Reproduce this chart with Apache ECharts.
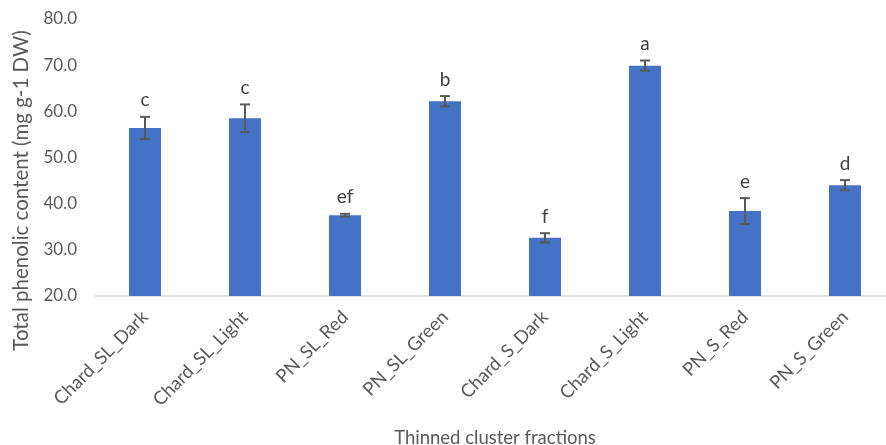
<!DOCTYPE html>
<html><head><meta charset="utf-8">
<script src="https://cdn.jsdelivr.net/npm/echarts@6/dist/echarts.min.js"></script>
<style>html,body{margin:0;padding:0;background:#fff}#c{width:886px;height:445px}</style>
</head><body><div id="c"></div>
<script>
const categories = ["Chard_SL_Dark","Chard_SL_Light","PN_SL_Red","PN_SL_Green","Chard_S_Dark","Chard_S_Light","PN_S_Red","PN_S_Green"];
const values = [56.4, 58.5, 37.5, 62.2, 32.6, 69.9, 38.4, 44.0];
const errors = [2.4, 3.0, 0.3, 1.1, 1.0, 1.1, 2.8, 1.1];
const letters = ["c","c","ef","b","f","a","e","d"];
const yTicks = {min: 20, max: 80, interval: 10};

const FONT = "Lato, 'Open Sans', sans-serif";
const chart = echarts.init(document.getElementById('c'));
chart.setOption({
  animation: false,
  textStyle: {fontFamily: FONT},
  grid: {left: 95, top: 19, width: 800, bottom: 149, containLabel: false, outerBoundsMode: 'none'},
  xAxis: {
    type: 'category', data: categories,
    axisLine: {lineStyle: {color: '#d9d9d9', width: 1.5}},
    axisTick: {show: false},
    axisLabel: {rotate: 45, color: '#595959', fontSize: 18.5, margin: 18, fontFamily: FONT},
    name: 'Thinned cluster fractions', nameLocation: 'middle', nameGap: 133,
    nameTextStyle: {color: '#595959', fontSize: 18.5, fontFamily: FONT}
  },
  yAxis: {
    type: 'value', min: yTicks.min, max: yTicks.max, interval: yTicks.interval,
    axisLine: {show: false}, axisTick: {show: false}, splitLine: {show: false},
    axisLabel: {color: '#595959', fontSize: 17, margin: 18, formatter: v => v.toFixed(1), fontFamily: FONT},
    name: 'Total phenolic content (mg g-1 DW)', nameLocation: 'middle', nameGap: 63,
    nameTextStyle: {color: '#595959', fontSize: 20.5, fontFamily: FONT, padding: [0, 66, 0, 0]}
  },
  series: [
    {type: 'bar', data: values, barWidth: 32, itemStyle: {color: '#4472c4'}},
    {
      type: 'custom', z: 10,
      data: values.map((v, i) => [i, v, errors[i], letters[i]]),
      renderItem: function (params, api) {
        const x = api.coord([api.value(0), 0])[0];
        const v = api.value(1), e = api.value(2);
        const top = api.coord([api.value(0), v + e])[1];
        const bot = api.coord([api.value(0), v - e])[1];
        const hw = 5;
        const st = {stroke: '#595959', lineWidth: 2};
        return {type: 'group', children: [
          {type: 'line', shape: {x1: x, y1: top, x2: x, y2: bot}, style: st},
          {type: 'line', shape: {x1: x - hw, y1: top, x2: x + hw, y2: top}, style: st},
          {type: 'line', shape: {x1: x - hw, y1: bot, x2: x + hw, y2: bot}, style: st},
          {type: 'text', style: {x: x, y: top - 7, text: letters[params.dataIndex], fill: '#404040',
            font: '19px ' + FONT, textAlign: 'center', textVerticalAlign: 'bottom'}}
        ]};
      }
    }
  ]
});
</script></body></html>
